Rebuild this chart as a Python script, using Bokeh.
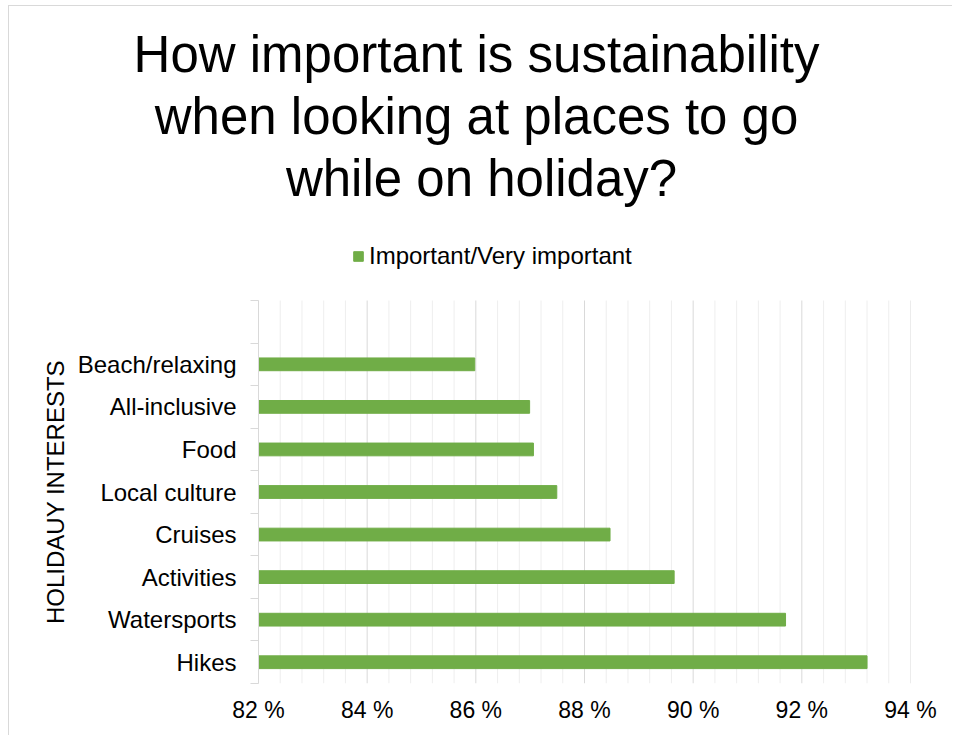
from bokeh.plotting import figure
from bokeh.models import (Range1d, FixedTicker, PrintfTickFormatter, Legend, LegendItem, Title)
from bokeh.embed import file_html
from bokeh.resources import INLINE

categories = ["Hikes", "Watersports", "Activities", "Cruises",
              "Local culture", "Food", "All-inclusive", "Beach/relaxing"]
values = [93.2, 91.7, 89.65, 88.47, 87.49, 87.06, 86.99, 85.98]
series_name = "Important/Very important"
x_ticks = [82, 84, 86, 88, 90, 92, 94]
title_lines = ["How important is sustainability",
               "when looking at places to go",
               "while on holiday?"]
y_axis_title = "HOLIDAUY INTERESTS"

FONT = "Liberation Sans"
GREEN = "#70ad47"
W, H = 944, 730
OX, OY = 9, 6            # canvas origin on the page (margin + 1px border line)
# page-pixel layout targets
FR_LEFT, FR_RIGHT = 258, 910
FR_TOP, SLOTS_TOP, FR_BOTTOM = 208, 300, 683
TITLE_SIZE = 51
TITLE_CENTERS = [476, 476, 481]

AW = {" ": 278, "?": 556, "H": 722, "a": 556, "b": 556, "c": 500, "d": 556,
      "e": 556, "g": 556, "h": 556, "i": 222, "k": 500, "l": 222, "m": 833,
      "n": 556, "o": 556, "p": 556, "r": 333, "s": 500, "t": 278, "u": 556,
      "w": 722, "y": 500, "O": 778, "L": 556, "I": 278, "D": 722, "A": 667,
      "U": 722, "Y": 667, "N": 722, "T": 611, "E": 667, "R": 722, "S": 667}


def text_width(s, size):
    return sum(AW.get(ch, 556) for ch in s) * size / 1000.0


n = len(categories)
idx = list(range(n))
slot_px = (FR_BOTTOM - SLOTS_TOP) / (n + 1)
y_top = n + 0.5 + (SLOTS_TOP - FR_TOP) / slot_px

p = figure(width=W, height=H, output_backend="svg", toolbar_location=None,
           x_range=Range1d(x_ticks[0], x_ticks[-1]),
           y_range=Range1d(-0.5, y_top),
           min_border_left=FR_LEFT - OX, min_border_right=W - (FR_RIGHT - OX),
           min_border_top=FR_TOP - OY, min_border_bottom=H - (FR_BOTTOM - OY))
p.outline_line_color = None
p.styles = {"border-left": "1px solid #d9d9d9", "border-top": "1px solid #d9d9d9",
            "margin-left": f"{OX - 1}px", "margin-top": f"{OY - 1}px"}
p.xgrid.grid_line_color = None
p.ygrid.grid_line_color = None

# vertical grid lines, limited to the category slots
step = 0.4
minor = [round(x_ticks[0] + step * k, 2) for k in range(int(round((x_ticks[-1] - x_ticks[0]) / step)) + 1)]
minor_only = [m for m in minor if all(abs(m - t) > 1e-6 for t in x_ticks)]
p.segment(x0=minor_only, x1=minor_only, y0=-0.5, y1=n + 0.5,
          line_color="#eeeeee", line_width=1, level="underlay")
p.segment(x0=x_ticks, x1=x_ticks, y0=-0.5, y1=n + 0.5,
          line_color="#d9d9d9", line_width=1, level="underlay")

r = p.hbar(y=idx, right=values, left=0, height=0.3, color=GREEN)

# x axis
p.xaxis.ticker = FixedTicker(ticks=x_ticks)
p.xaxis.formatter = PrintfTickFormatter(format="%d %%")
p.xaxis.axis_line_color = None
p.xaxis.major_tick_line_color = None
p.xaxis.minor_tick_line_color = None
p.xaxis.major_label_text_font = FONT
p.xaxis.major_label_text_font_size = "23px"
p.xaxis.major_label_text_color = "#000000"
p.xaxis.major_label_standoff = 7

# y axis
p.yaxis.ticker = FixedTicker(ticks=idx, minor_ticks=[i - 0.5 for i in range(n + 2)])
p.yaxis.bounds = (-0.5, n + 0.5)
p.yaxis.major_label_overrides = {i: c for i, c in zip(idx, categories)}
p.yaxis.major_tick_line_color = None
p.yaxis.minor_tick_line_color = "#d9d9d9"
p.yaxis.minor_tick_out = 8
p.yaxis.minor_tick_in = 0
p.yaxis.axis_line_color = "#d9d9d9"
p.yaxis.major_label_text_font = FONT
p.yaxis.major_label_text_font_size = "24px"
p.yaxis.major_label_text_color = "#000000"
p.yaxis.major_label_standoff = 14

# y axis title as a rotated Title in the left panel, centred on the slots
AX_SIZE = 24
ax_off = (FR_BOTTOM - SLOTS_TOP) / 2 - text_width(y_axis_title, AX_SIZE) / 2
p.add_layout(Title(text=y_axis_title, align="left", offset=ax_off, standoff=11,
                   text_font=FONT, text_font_size=f"{AX_SIZE}px",
                   text_font_style="normal", text_color="#000000"), "left")

# legend inside the (extended) frame, above the category slots
legend = Legend(items=[LegendItem(label=series_name, renderers=[r])],
                location=(352 - FR_LEFT, FR_BOTTOM - 270), orientation="horizontal",
                padding=0, margin=0, border_line_color=None,
                background_fill_alpha=0, glyph_width=12, glyph_height=12,
                label_standoff=5, label_text_font=FONT, label_text_font_size="24px",
                label_text_color="#000000")
p.add_layout(legend, "center")

# title lines, added bottom-up (closest to frame first)
for t, cx in reversed(list(zip(title_lines, TITLE_CENTERS))):
    off = cx - text_width(t, TITLE_SIZE) / 2 - FR_LEFT
    p.add_layout(Title(text=t, align="left", offset=off, standoff=3,
                       text_font=FONT, text_font_size=f"{TITLE_SIZE}px",
                       text_font_style="normal", text_color="#000000"), "above")

open("out.html", "w").write(file_html(p, INLINE))
